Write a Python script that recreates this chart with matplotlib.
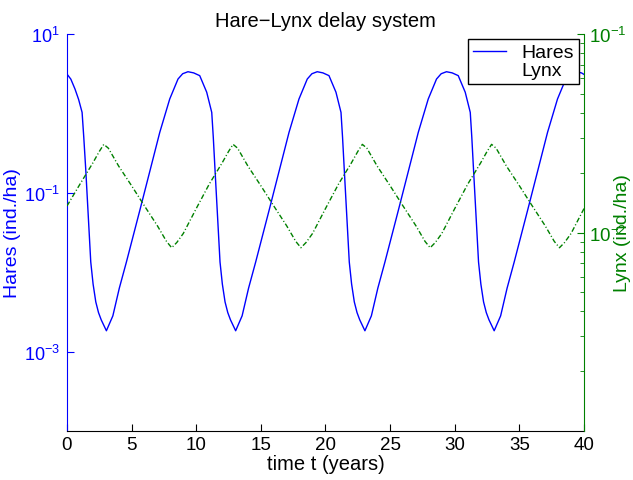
import numpy as np
import matplotlib
matplotlib.use("Agg")
import matplotlib.pyplot as plt
from matplotlib.ticker import NullLocator, LogLocator, NullFormatter

plt.rcParams['font.family'] = ['Liberation Sans', 'DejaVu Sans']
plt.rcParams['font.size'] = 13.5

# hares (ind./ha)
t_hares = [0.0, 0.3, 0.62, 0.9, 1.17, 1.30, 1.45, 1.84, 2.02, 2.23, 2.44, 2.65, 3.05,
           3.55, 4.05, 4.6, 5.63, 6.45, 7.18, 7.95, 8.59, 8.95, 9.36, 9.8,
           10.27, 10.81, 11.2, 11.32, 11.45, 11.84, 12.02, 12.23, 12.44, 12.65, 13.05,
           13.55, 14.05, 14.6, 15.63, 16.45, 17.18, 17.95, 18.59, 18.95, 19.36, 19.8,
           20.27, 20.81, 21.2, 21.32, 21.45, 21.84, 22.02, 22.23, 22.44, 22.65, 23.05,
           23.55, 24.05, 24.6, 25.63, 26.45, 27.18, 27.95, 28.59, 28.95, 29.36, 29.8,
           30.27, 30.81, 31.2, 31.32, 31.45, 31.84, 32.02, 32.23, 32.44, 32.65, 33.05,
           33.55, 34.05, 34.6, 35.63, 36.45, 37.18, 37.95, 38.59, 38.95, 39.36, 39.8, 40.0]
hares = [3.13, 2.7, 2.03, 1.5, 1.03, 0.5, 0.20, 0.01346, 0.0071, 0.00422, 0.0031, 0.00251, 0.00183,
         0.00282, 0.0063, 0.01346, 0.0596, 0.198, 0.578, 1.52, 2.71, 3.16, 3.35, 3.24,
         2.99, 1.85, 1.03, 0.5, 0.20, 0.01346, 0.0071, 0.00422, 0.0031, 0.00251, 0.00183,
         0.00282, 0.0063, 0.01346, 0.0596, 0.198, 0.578, 1.52, 2.71, 3.16, 3.35, 3.24,
         2.99, 1.85, 1.03, 0.5, 0.20, 0.01346, 0.0071, 0.00422, 0.0031, 0.00251, 0.00183,
         0.00282, 0.0063, 0.01346, 0.0596, 0.198, 0.578, 1.52, 2.71, 3.16, 3.35, 3.24,
         2.99, 1.85, 1.03, 0.5, 0.20, 0.01346, 0.0071, 0.00422, 0.0031, 0.00251, 0.00183,
         0.00282, 0.0063, 0.01346, 0.0596, 0.198, 0.578, 1.52, 2.71, 3.16, 3.35, 3.24, 3.1]

# lynx (ind./ha)
t_lynx = [0.0, 1.0, 2.0, 2.5, 2.85, 3.2, 4.0, 5.0, 6.0, 7.0, 7.7, 8.1, 8.5, 9.0,
          10.0, 11.0, 12.0, 12.5, 12.85, 13.2, 14.0, 15.0, 16.0, 17.0, 17.7, 18.1, 18.5, 19.0,
          20.0, 21.0, 22.0, 22.5, 22.85, 23.2, 24.0, 25.0, 26.0, 27.0, 27.7, 28.1, 28.5, 29.0,
          30.0, 31.0, 32.0, 32.5, 32.85, 33.2, 34.0, 35.0, 36.0, 37.0, 37.7, 38.1, 38.5, 39.0,
          40.0]
lynx = [0.0136, 0.0175, 0.0224, 0.0256, 0.0278, 0.0266, 0.0216, 0.0172, 0.0136, 0.0108, 0.00902, 0.00838, 0.00891, 0.00989,
        0.0132, 0.0175, 0.0224, 0.0256, 0.0278, 0.0266, 0.0216, 0.0172, 0.0136, 0.0108, 0.00902, 0.00838, 0.00891, 0.00989,
        0.0132, 0.0175, 0.0224, 0.0256, 0.0278, 0.0266, 0.0216, 0.0172, 0.0136, 0.0108, 0.00902, 0.00838, 0.00891, 0.00989,
        0.0132, 0.0175, 0.0224, 0.0256, 0.0278, 0.0266, 0.0216, 0.0172, 0.0136, 0.0108, 0.00902, 0.00838, 0.00891, 0.00989,
        0.0132]

xticks = [0, 5, 10, 15, 20, 25, 30, 35, 40]

fig = plt.figure(figsize=(6.33, 4.81), dpi=100)
ax = fig.add_axes([0.1058, 0.1019, 0.8168, 0.8253])
ax2 = ax.twinx()

blue = (0, 0, 1)
green = (0, 0.5, 0)

l1, = ax.plot(t_hares, hares, color=blue, lw=1.0)
ax.set_yscale('log')
ax.set_ylim(1e-4, 1e1)
ax.set_yticks([1e1, 1e-1, 1e-3])
ax.yaxis.set_minor_locator(NullLocator())
ax.set_xlim(0, 40)
ax.set_xticks(xticks)
ax.tick_params(axis='y', direction='in', colors=blue, length=5, labelsize=13, pad=5)
ax.tick_params(axis='x', direction='in', length=5, labelsize=13.5)
ax.spines['left'].set_color(blue)
ax.spines['top'].set_visible(False)
ax.spines['right'].set_visible(False)
ax.set_ylabel('Hares (ind./ha)', color=blue, fontsize=14)
ax.yaxis.set_label_coords(-0.088, 0.5)
ax.set_xlabel('time t (years)', labelpad=1, fontsize=14.5)
ax.set_title('Hare\u2212Lynx delay system', pad=6, fontsize=14.5)

ax2.plot(t_lynx, lynx, color=green, lw=1.0, linestyle=(0, (3.6, 1.6, 0.8, 1.6)))
ax2.set_yscale('log')
ax2.set_ylim(1e-3, 1e-1)
ax2.set_yticks([1e-1, 1e-2])
ax2.yaxis.set_minor_locator(LogLocator(base=10, subs=np.arange(2, 10)))
ax2.yaxis.set_minor_formatter(NullFormatter())
ax2.tick_params(axis='y', which='major', direction='in', colors=green, length=5, labelsize=13.5)
ax2.tick_params(axis='y', which='minor', direction='in', colors=green, length=3)
for s in ['left', 'top', 'bottom']:
    ax2.spines[s].set_visible(False)
ax2.spines['right'].set_color(green)
ax2.set_ylabel('Lynx (ind./ha)', color=green, fontsize=14)
ax2.yaxis.set_label_coords(1.058, 0.5)

ghost = plt.Line2D([], [], color='none')
leg = ax2.legend([l1, ghost], ['Hares', 'Lynx'], loc='upper right',
                 fancybox=False, framealpha=1, edgecolor='black',
                 borderaxespad=0.25, handlelength=1.7, borderpad=0.25,
                 labelspacing=0.0, handletextpad=0.8, fontsize=14)
leg.get_frame().set_linewidth(1.0)

fig.savefig('out.png', dpi=100)
